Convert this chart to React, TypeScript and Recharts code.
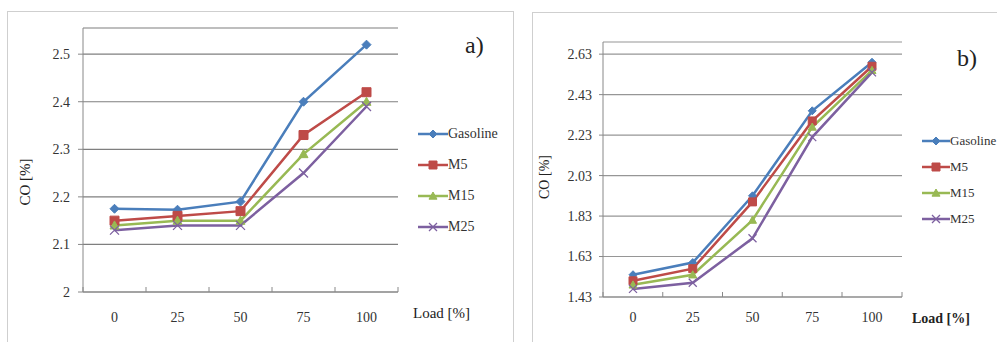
import React from 'react';
import { LineChart, Line, XAxis, YAxis, CartesianGrid } from 'recharts';

// engine load categories
const loads = ['0', '25', '50', '75', '100'];

// a) CO [%]
const gasolineA = [2.175, 2.173, 2.19, 2.4, 2.52];
const m5A = [2.15, 2.16, 2.17, 2.33, 2.42];
const m15A = [2.14, 2.15, 2.15, 2.29, 2.4];
const m25A = [2.13, 2.14, 2.14, 2.25, 2.39];

// b) CO [%]
const gasolineB = [1.54, 1.6, 1.93, 2.35, 2.59];
const m5B = [1.51, 1.57, 1.9, 2.3, 2.57];
const m15B = [1.49, 1.54, 1.81, 2.27, 2.55];
const m25B = [1.47, 1.5, 1.72, 2.22, 2.54];

const ticksA = [2, 2.1, 2.2, 2.3, 2.4, 2.5];
const ticksB = [1.43, 1.63, 1.83, 2.03, 2.23, 2.43, 2.63];

const FONT = '"Liberation Serif", "Times New Roman", serif';

const SERIES = [
  { key: 'Gasoline', color: '#4A7EBB', shape: 'diamond' },
  { key: 'M5', color: '#BE4B48', shape: 'square' },
  { key: 'M15', color: '#98B954', shape: 'triangle' },
  { key: 'M25', color: '#7D60A0', shape: 'cross' },
];

const buildRows = (cols: number[][]) =>
  loads.map((load, i) => ({
    load,
    Gasoline: cols[0][i],
    M5: cols[1][i],
    M15: cols[2][i],
    M25: cols[3][i],
  }));

const dataA = buildRows([gasolineA, m5A, m15A, m25A]);
const dataB = buildRows([gasolineB, m5B, m15B, m25B]);

function markerPath(shape: string, cx: number, cy: number, s: number) {
  switch (shape) {
    case 'diamond':
      return `M${cx},${cy - s}L${cx + s},${cy}L${cx},${cy + s}L${cx - s},${cy}Z`;
    case 'square':
      return `M${cx - s},${cy - s}h${2 * s}v${2 * s}h${-2 * s}Z`;
    case 'triangle':
      return `M${cx},${cy - s}L${cx + s},${cy + s * 0.8}L${cx - s},${cy + s * 0.8}Z`;
    default:
      return `M${cx - s},${cy - s}L${cx + s},${cy + s}M${cx + s},${cy - s}L${cx - s},${cy + s}`;
  }
}

function Marker({ cx, cy, shape, color, size }: any) {
  if (cx == null || cy == null) return null;
  const d = markerPath(shape, cx, cy, size / 2);
  if (shape === 'cross') {
    return <path d={d} stroke={color} strokeWidth={1.3} fill="none" />;
  }
  return <path d={d} fill={color} stroke={color} strokeWidth={1} />;
}

// category label plus small inward tick marks on the category boundaries (Excel style)
function CategoryTick({ x, y, payload, index, half, margin }: any) {
  const axisY = y - margin;
  const last = index === loads.length - 1;
  return (
    <g>
      <line x1={payload.coordinate - half} y1={axisY} x2={payload.coordinate - half} y2={axisY - 5} stroke="#888" />
      {last && <line x1={payload.coordinate + half} y1={axisY} x2={payload.coordinate + half} y2={axisY - 5} stroke="#888" />}
      <text x={x} y={y} dy="0.71em" textAnchor="middle" fontFamily={FONT} fontSize={14} fill="#333">
        {payload.value}
      </text>
    </g>
  );
}

function LegendBox({ left, top, rowHeight, fontSize, lineLen }: any) {
  return (
    <div style={{ position: 'absolute', left, top, fontFamily: FONT, fontSize, color: '#333' }}>
      {SERIES.map((s) => (
        <div key={s.key} style={{ height: rowHeight, display: 'flex', alignItems: 'center', whiteSpace: 'nowrap' }}>
          <svg width={lineLen} height={12} style={{ flex: 'none' }}>
            <line x1={0} y1={6} x2={lineLen} y2={6} stroke={s.color} strokeWidth={2.5} />
            <Marker cx={lineLen / 2} cy={6} shape={s.shape} color={s.color} size={8} />
          </svg>
          <span>{s.key}</span>
        </div>
      ))}
    </div>
  );
}

interface PanelProps {
  data: any[];
  left: number;
  width: number;
  margin: { top: number; right: number; bottom: number; left: number };
  yWidth: number;
  domain: [number, number];
  ticks: number[];
  yTickSize: number;
  yTickMargin: number;
  xTickMargin: number;
  xPad: number;
  gridColor: string;
  markerSize: number;
}

function Panel(p: PanelProps) {
  const tickStyle = { fontFamily: FONT, fontSize: 14, fill: '#333' };
  return (
    <div style={{ position: 'absolute', left: p.left, top: 0 }}>
      <LineChart width={p.width} height={342} data={p.data} margin={p.margin}>
        <CartesianGrid vertical={false} stroke={p.gridColor} strokeWidth={1.2} />
        <XAxis
          dataKey="load"
          height={30}
          padding={{ left: p.xPad, right: p.xPad }}
          tickLine={false}
          tickSize={0}
          tickMargin={p.xTickMargin}
          axisLine={{ stroke: '#888' }}
          tick={(props: any) => <CategoryTick {...props} half={p.xPad} margin={p.xTickMargin} />}
          interval={0}
        />
        <YAxis
          width={p.yWidth}
          domain={p.domain}
          ticks={p.ticks}
          type="number"
          allowDataOverflow
          tickSize={p.yTickSize}
          tickMargin={p.yTickMargin}
          axisLine={{ stroke: '#888' }}
          tickLine={{ stroke: '#888' }}
          tick={tickStyle}
          interval={0}
        />
        {SERIES.map((s) => (
          <Line
            key={s.key}
            dataKey={s.key}
            name={s.key}
            stroke={s.color}
            strokeWidth={2.5}
            isAnimationActive={false}
            dot={(props: any) => (
              <Marker key={`${s.key}-${props.index}`} cx={props.cx} cy={props.cy} shape={s.shape} color={s.color} size={p.markerSize} />
            )}
            activeDot={false}
          />
        ))}
      </LineChart>
    </div>
  );
}

const textStyle: React.CSSProperties = { position: 'absolute', fontFamily: FONT, color: '#222', whiteSpace: 'nowrap' };

export default function App() {
  return (
    <div style={{ position: 'absolute', left: 0, top: 0, width: 997, height: 342, background: '#fff', overflow: 'hidden' }}>
      <div style={{ position: 'absolute', left: 7, top: 11, width: 505, height: 340, border: '1px solid #cfcfcf' }} />
      <div style={{ position: 'absolute', left: 532, top: 12, width: 470, height: 340, border: '1px solid #cfcfcf' }} />

      <Panel
        data={dataA}
        left={0}
        width={500}
        margin={{ top: 28, right: 102, bottom: 20, left: 0 }}
        yWidth={83}
        domain={[2, 2.555]}
        ticks={ticksA}
        yTickSize={5}
        yTickMargin={8}
        xTickMargin={20}
        xPad={31.5}
        gridColor="#7f7f7f"
        markerSize={9}
      />
      <Panel
        data={dataB}
        left={500}
        width={497}
        margin={{ top: 42, right: 95, bottom: 15, left: 0 }}
        yWidth={103}
        domain={[1.43, 2.69]}
        ticks={ticksB}
        yTickSize={4}
        yTickMargin={7}
        xTickMargin={15}
        xPad={30}
        gridColor="#969696"
        markerSize={8}
      />

      <LegendBox left={418} top={118} rowHeight={31} fontSize={14} lineLen={30} />
      <LegendBox left={922} top={128} rowHeight={26} fontSize={13} lineLen={28} />

      <div style={{ ...textStyle, left: 465, top: 31, fontSize: 24, lineHeight: '28px' }}>a)</div>
      <div style={{ ...textStyle, left: 957, top: 44, fontSize: 24, lineHeight: '28px' }}>b)</div>
      <div style={{ ...textStyle, left: 413, top: 304, fontSize: 15, lineHeight: '18px' }}>Load [%]</div>
      <div style={{ ...textStyle, left: 912, top: 310, fontSize: 14, lineHeight: '18px', fontWeight: 'bold' }}>Load [%]</div>
      <div
        style={{
          ...textStyle,
          left: 25,
          top: 182,
          fontSize: 15,
          lineHeight: '18px',
          transform: 'translate(-50%, -50%) rotate(-90deg)',
        }}
      >
        CO [%]
      </div>
      <div
        style={{
          ...textStyle,
          left: 545,
          top: 177,
          fontSize: 14,
          lineHeight: '18px',
          transform: 'translate(-50%, -50%) rotate(-90deg)',
        }}
      >
        CO [%]
      </div>
    </div>
  );
}
